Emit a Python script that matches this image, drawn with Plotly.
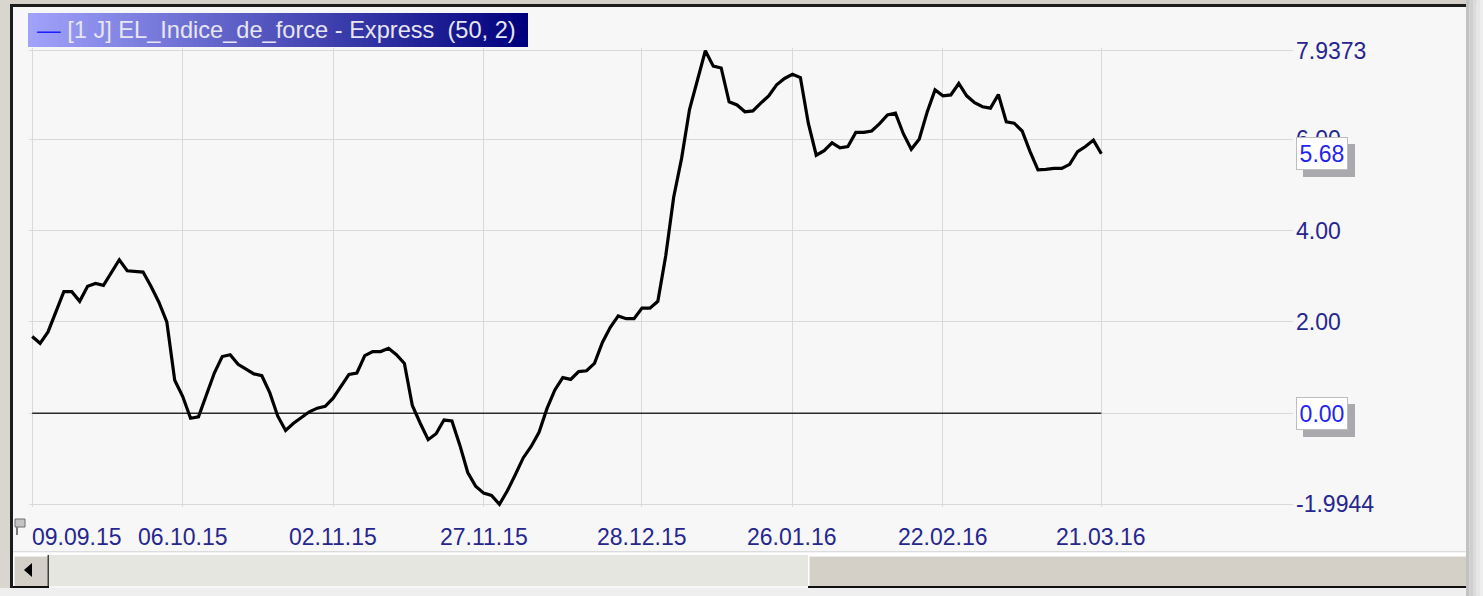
import plotly.graph_objects as go

# ---------------- data ----------------
values = [
    1.68, 1.53, 1.78, 2.20, 2.66, 2.66, 2.45, 2.78, 2.84, 2.80,
    3.08, 3.36, 3.12, 3.10, 3.09, 2.78, 2.43, 2.00, 0.72, 0.37,
    -0.11, -0.08, 0.38, 0.88, 1.24, 1.28, 1.07, 0.96, 0.86, 0.82,
    0.45, -0.06, -0.38, -0.22, -0.10, 0.03, 0.11, 0.15, 0.33, 0.60,
    0.85, 0.88, 1.26, 1.35, 1.35, 1.42, 1.28, 1.09, 0.17, -0.22,
    -0.58, -0.45, -0.15, -0.17, -0.70, -1.30, -1.60, -1.75, -1.80, -1.9944,
    -1.70, -1.35, -0.98, -0.73, -0.42, 0.10, 0.51, 0.78, 0.74, 0.91,
    0.93, 1.09, 1.55, 1.88, 2.13, 2.07, 2.07, 2.30, 2.30, 2.45,
    3.45, 4.73, 5.58, 6.65, 7.30, 7.9373, 7.60, 7.56, 6.82, 6.75,
    6.60, 6.62, 6.79, 6.95, 7.19, 7.33, 7.42, 7.35, 6.35, 5.65,
    5.75, 5.92, 5.81, 5.84, 6.15, 6.15, 6.18, 6.34, 6.53, 6.57,
    6.12, 5.78, 6.00, 6.59, 7.08, 6.95, 6.97, 7.22, 6.95, 6.80,
    6.71, 6.68, 6.98, 6.38, 6.35, 6.18, 5.73, 5.33, 5.34, 5.36,
    5.36, 5.45, 5.73, 5.84, 5.98, 5.68,
]
bar_index = list(range(len(values)))
zero_level = [0.0] * len(values)

tick_idx = [0, 19, 38, 57, 77, 96, 115, 135]
tick_labels = ["09.09.15", "06.10.15", "02.11.15", "27.11.15",
               "28.12.15", "26.01.16", "22.02.16", "21.03.16"]
y_ticks = [-1.9944, 0.0, 2.0, 4.0, 6.0, 7.9373]
y_tick_text = ["-1.9944", "", "2.00", "4.00", "6.00", "7.9373"]  # 0.00 shown in its box
legend_text = "[1 J] EL_Indice_de_force - Express  (50, 2)"

# ---------------- geometry helpers ----------------
W, H = 1483, 596
L, R, T, B = 29, 190, 48, 89
PW = W - L - R
PH = H - T - B
FONT = "Liberation Sans, Arial, sans-serif"
AXCOL = "#26268e"
FS = 23


def px(x):
    return (x - L) / PW


def py(y):
    return (H - B - y) / PH


shapes = []


def rect(x0, y0, x1, y1, fill, line=None, lw=0):
    shapes.append(dict(type="rect", xref="paper", yref="paper",
                       x0=px(x0), x1=px(x1), y0=py(y1), y1=py(y0),
                       fillcolor=fill, layer="above",
                       line=dict(color=line or fill, width=lw)))


# outer window chrome
rect(0, 0, W, 4, "#d4d0c8")
rect(0, 0, 10, H, "#d8d6ce")
rect(0, 588, W, H, "#efefef")
for i, c in enumerate(["#c2c2c2", "#cfcfcf", "#dbdbdb", "#e6e6e6", "#eeeeee"]):
    rect(1466 + i * 3.5, 0, 1466 + (i + 1) * 3.5 + (3 if i == 4 else 0), H, c)
rect(10, 4, 1466, 7, "#1c1c1c")
rect(10, 4, 13, 588, "#1c1c1c")

# separator above scrollbar
rect(13, 551, 1466, 552.5, "#dcdcdc")
rect(13, 552.5, 1466, 555, "#ffffff")
# scrollbar track
rect(49, 555, 808, 586, "#e6e6e0")
# left button
rect(13, 555, 49, 586, "#d4d0c8")
rect(13, 555, 49, 556.5, "#ffffff")
rect(13, 555, 14.5, 586, "#ffffff")
rect(47.5, 555, 49, 588, "#404040")
rect(13, 586, 49, 588, "#101010")
shapes.append(dict(type="path", xref="paper", yref="paper", layer="above",
                   path=f"M {px(24)},{py(570)} L {px(32)},{py(563)} L {px(32)},{py(577)} Z",
                   fillcolor="#000000", line=dict(color="#000000", width=0)))
# thumb
rect(808, 555, 1466, 586, "#d4d0c8")
rect(808, 555, 1466, 556.5, "#ffffff")
rect(808, 555, 809.5, 586, "#ffffff")
rect(808, 586, 1466, 588, "#101010")

# small pin icon at the bottom-left
rect(15, 519, 25, 527, "#c4c4c4", "#6e6e6e", 1)
rect(16, 527, 18, 535, "#7a7a7a")

# gradient title bar (legend)
n_slices = 100
x_left, x_right = 28, 528
c0 = (160, 162, 250)
c1 = (0, 0, 125)
for k in range(n_slices):
    t = k / (n_slices - 1)
    col = "rgb({},{},{})".format(*[round(a + (b - a) * t) for a, b in zip(c0, c1)])
    xa = x_left + (x_right - x_left) * k / n_slices
    xb = x_left + (x_right - x_left) * (k + 1) / n_slices + 0.6
    rect(xa, 13, min(xb, x_right), 47, col)

# ---------------- figure ----------------
fig = go.Figure()
fig.add_trace(go.Scatter(x=bar_index, y=zero_level, mode="lines",
                         line=dict(color="#2a2a2a", width=1.6),
                         hoverinfo="skip", showlegend=False))
fig.add_trace(go.Scatter(x=bar_index, y=values, mode="lines",
                         line=dict(color="#000000", width=3.2),
                         showlegend=False))

annotations = []
# legend text
annotations.append(dict(xref="paper", yref="paper", x=px(35), y=py(30),
                        xanchor="left", yanchor="middle", showarrow=False,
                        text='<span style="color:#1e1eff">—</span> ' + legend_text,
                        font=dict(family=FONT, size=23.6, color="#e6e6f0")))
# x tick labels
for i, (ti, lab) in enumerate(zip(tick_idx, tick_labels)):
    annotations.append(dict(xref="x", yref="paper", x=ti, y=py(537),
                            xanchor="left" if i == 0 else "center",
                            xshift=-2 if i == 0 else 0,
                            yanchor="middle", showarrow=False, text=lab,
                            font=dict(family=FONT, size=FS, color=AXCOL)))
# boxed value markers (last value and zero level)
for val in [values[-1], zero_level[-1]]:
    txt = f"{val:.2f}"
    # drop shadow (box only)
    annotations.append(dict(xref="paper", yref="y", x=px(1296), y=val,
                            xanchor="left", yanchor="middle", showarrow=False,
                            xshift=7, yshift=-7, text=" ", width=50, height=31,
                            borderpad=0, borderwidth=1, bgcolor="#a9a9ae",
                            bordercolor="#a9a9ae",
                            font=dict(family=FONT, size=FS, color="#a9a9ae")))
    annotations.append(dict(xref="paper", yref="y", x=px(1296), y=val,
                            xanchor="left", yanchor="middle", showarrow=False,
                            text=txt, width=50, height=31, borderpad=0,
                            borderwidth=1, bgcolor="#ffffff", bordercolor="#bdbdbd",
                            font=dict(family=FONT, size=FS, color="#2424ee")))

fig.update_layout(
    width=W, height=H,
    margin=dict(l=L, r=R, t=T, b=B, autoexpand=False),
    paper_bgcolor="#f7f7f7", plot_bgcolor="#f7f7f7",
    shapes=shapes, annotations=annotations,
    showlegend=False, hovermode=False,
    xaxis=dict(range=[-0.4, 159.2], tickvals=tick_idx, showticklabels=False,
               showgrid=True, gridcolor="#d9d9d9", gridwidth=1.4,
               zeroline=False, showline=False, ticks="", fixedrange=True),
    yaxis=dict(range=[-2.0544, 7.9973], side="right", tickvals=y_ticks,
               ticktext=y_tick_text, showgrid=True, gridcolor="#d9d9d9",
               gridwidth=1.4, zeroline=False, showline=False, ticks="",
               ticklabelstandoff=2,
               tickfont=dict(family=FONT, size=FS, color=AXCOL), fixedrange=True),
)

fig.write_html("out.html", config={"displayModeBar": False})

# remove the browser's default page margin so the figure sits at (0, 0)
with open("out.html", encoding="utf-8") as f:
    html = f.read()
html = html.replace("<head>", "<head><style>html,body{margin:0;padding:0;overflow:hidden;}</style>", 1)
with open("out.html", "w", encoding="utf-8") as f:
    f.write(html)
